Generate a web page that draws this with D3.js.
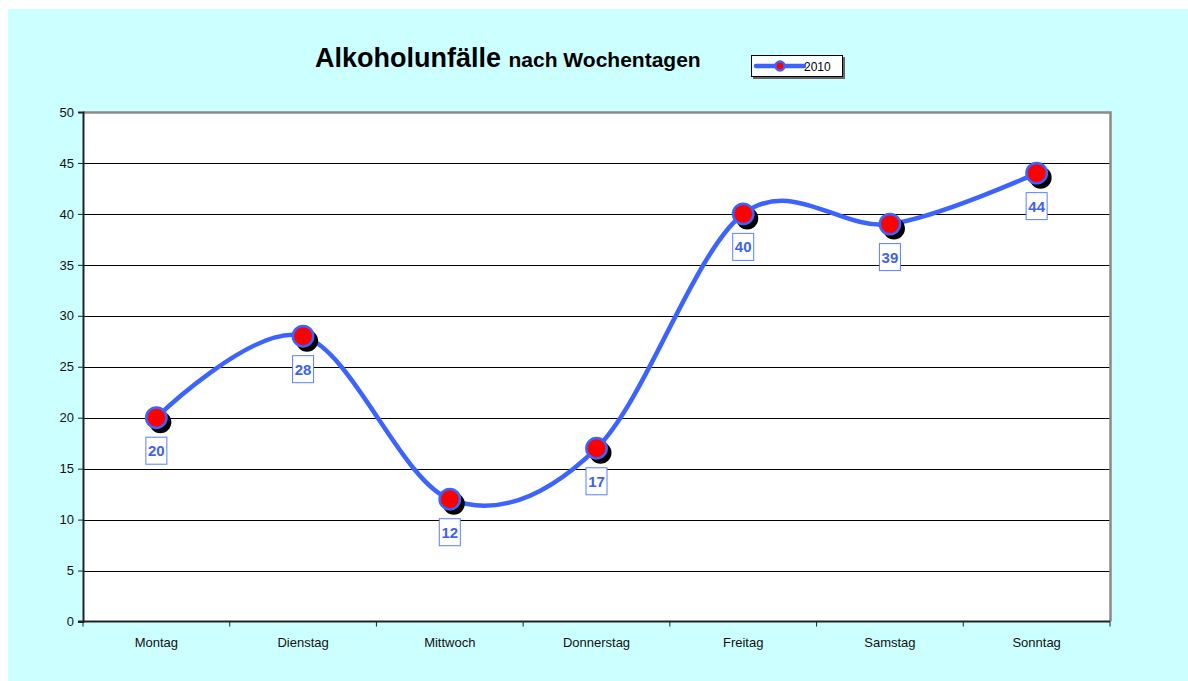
<!DOCTYPE html>
<html>
<head>
<meta charset="utf-8">
<script src="https://cdn.jsdelivr.net/npm/d3@7"></script>
<style>
  body { margin: 0; background: #fff; }
  svg { display: block; font-family: "Liberation Sans", Arial, sans-serif; }
</style>
</head>
<body>
<svg id="chart" width="1188" height="681"></svg>
<script>
// data
var days = ["Montag", "Dienstag", "Mittwoch", "Donnerstag", "Freitag", "Samstag", "Sonntag"];
var values2010 = [20, 28, 12, 17, 40, 39, 44];
var yTicks = [0, 5, 10, 15, 20, 25, 30, 35, 40, 45, 50];
var seriesName = "2010";

var svg = d3.select("#chart");

// cyan chart area
svg.append("rect")
    .attr("x", 8).attr("y", 9)
    .attr("width", 1180).attr("height", 672)
    .attr("fill", "#ccffff");

var plotLeft = 83, plotRight = 1110, plotTop = 112, plotBottom = 621.5;

var x = d3.scaleBand().domain(days).range([plotLeft, plotRight]);
var y = d3.scaleLinear().domain([0, 50]).range([plotBottom, plotTop]);

// plot area
svg.append("rect")
    .attr("x", plotLeft).attr("y", plotTop)
    .attr("width", plotRight - plotLeft).attr("height", plotBottom - plotTop)
    .attr("fill", "#fff");

// grid lines
svg.append("g")
    .selectAll("line")
    .data(yTicks.slice(1, -1))
    .enter()
    .append("line")
    .attr("x1", plotLeft).attr("x2", plotRight)
    .attr("y1", function(d) { return Math.round(y(d)) + 0.5; })
    .attr("y2", function(d) { return Math.round(y(d)) + 0.5; })
    .attr("stroke", "#000")
    .attr("stroke-width", 1);

// gray border top / right
svg.append("path")
    .attr("d", "M" + plotLeft + "," + (plotTop + 0.5) + "H" + (plotRight + 0.5) + "V" + plotBottom)
    .attr("fill", "none")
    .attr("stroke", "#8a8a8a")
    .attr("stroke-width", 2.5);

// y axis
var yAxis = d3.axisLeft(y).tickValues(yTicks).tickSize(5).tickPadding(4);
var gy = svg.append("g")
    .attr("transform", "translate(" + plotLeft + ",0)")
    .call(yAxis);
gy.select(".domain").attr("stroke", "#222").attr("stroke-width", 2);
gy.selectAll(".tick line").attr("stroke", "#222");
gy.selectAll("text").attr("font-size", 13).attr("fill", "#111")
    .attr("font-family", "Liberation Sans, Arial, sans-serif");

// x axis with ticks at band boundaries
var gx = svg.append("g")
    .attr("transform", "translate(0," + plotBottom + ")");
gx.append("line")
    .attr("x1", plotLeft - 5).attr("x2", plotRight)
    .attr("stroke", "#222").attr("stroke-width", 2);
gx.selectAll("line.tk")
    .data(days.concat(["end"]))
    .enter()
    .append("line")
    .attr("class", "tk")
    .attr("x1", function(d, i) { return plotLeft + i * x.step(); })
    .attr("x2", function(d, i) { return plotLeft + i * x.step(); })
    .attr("y1", 0).attr("y2", 5)
    .attr("stroke", "#222");
gx.selectAll("text")
    .data(days)
    .enter()
    .append("text")
    .attr("x", function(d) { return x(d) + x.bandwidth() / 2; })
    .attr("y", 25)
    .attr("text-anchor", "middle")
    .attr("font-size", 13)
    .attr("fill", "#111")
    .text(function(d) { return d; });

var cx = function(i) { return x(days[i]) + x.bandwidth() / 2; };

// smoothed line (Excel-style uniform Catmull-Rom)
var line = d3.line()
    .x(function(d, i) { return cx(i); })
    .y(function(d) { return y(d); })
    .curve(d3.curveCardinal.tension(0));

svg.append("path")
    .datum(values2010)
    .attr("d", line)
    .attr("fill", "none")
    .attr("stroke", "#3d63ff")
    .attr("stroke-width", 4.5);

// markers with shadow
var pts = svg.append("g").selectAll("g")
    .data(values2010)
    .enter()
    .append("g");

pts.append("circle")
    .attr("cx", function(d, i) { return cx(i) + 4; })
    .attr("cy", function(d) { return y(d) + 4.5; })
    .attr("r", 11)
    .attr("fill", "#000");

pts.append("circle")
    .attr("cx", function(d, i) { return cx(i); })
    .attr("cy", function(d) { return y(d); })
    .attr("r", 10.2)
    .attr("fill", "#ff0000")
    .attr("stroke", "#3d63ff")
    .attr("stroke-width", 2.5);

// value labels
pts.append("rect")
    .attr("x", function(d, i) { return cx(i) - 10.5; })
    .attr("y", function(d) { return y(d) + 19.5; })
    .attr("width", 21)
    .attr("height", 27)
    .attr("fill", "#fff")
    .attr("stroke", "#5b7fff")
    .attr("stroke-width", 1);

pts.append("text")
    .attr("x", function(d, i) { return cx(i); })
    .attr("y", function(d) { return y(d) + 38.5; })
    .attr("text-anchor", "middle")
    .attr("font-size", 15)
    .attr("font-weight", "bold")
    .attr("fill", "#3f62ea")
    .text(function(d) { return d; });

// title
var title = svg.append("text")
    .attr("x", 315).attr("y", 67)
    .attr("font-weight", "bold")
    .attr("fill", "#000");
title.append("tspan").attr("font-size", 27).text("Alkoholunfälle ");
title.append("tspan").attr("font-size", 21).text("nach Wochentagen");

// legend
var lg = svg.append("g").attr("transform", "translate(751,55)");
lg.append("rect")
    .attr("x", 2).attr("y", 2).attr("width", 92).attr("height", 22)
    .attr("fill", "#666");
lg.append("rect")
    .attr("x", 0.5).attr("y", 0.5).attr("width", 91).attr("height", 21)
    .attr("fill", "#fff").attr("stroke", "#000");
lg.append("line")
    .attr("x1", 5).attr("x2", 53).attr("y1", 11).attr("y2", 11)
    .attr("stroke", "#3d63ff").attr("stroke-width", 4.5)
    .attr("stroke-linecap", "round");
lg.append("circle")
    .attr("cx", 29).attr("cy", 11).attr("r", 4.5)
    .attr("fill", "#ff0000").attr("stroke", "#3d63ff").attr("stroke-width", 2.5);
lg.append("text")
    .attr("x", 53).attr("y", 15.5)
    .attr("font-size", 12).attr("fill", "#000")
    .text(seriesName);
</script>
</body>
</html>
